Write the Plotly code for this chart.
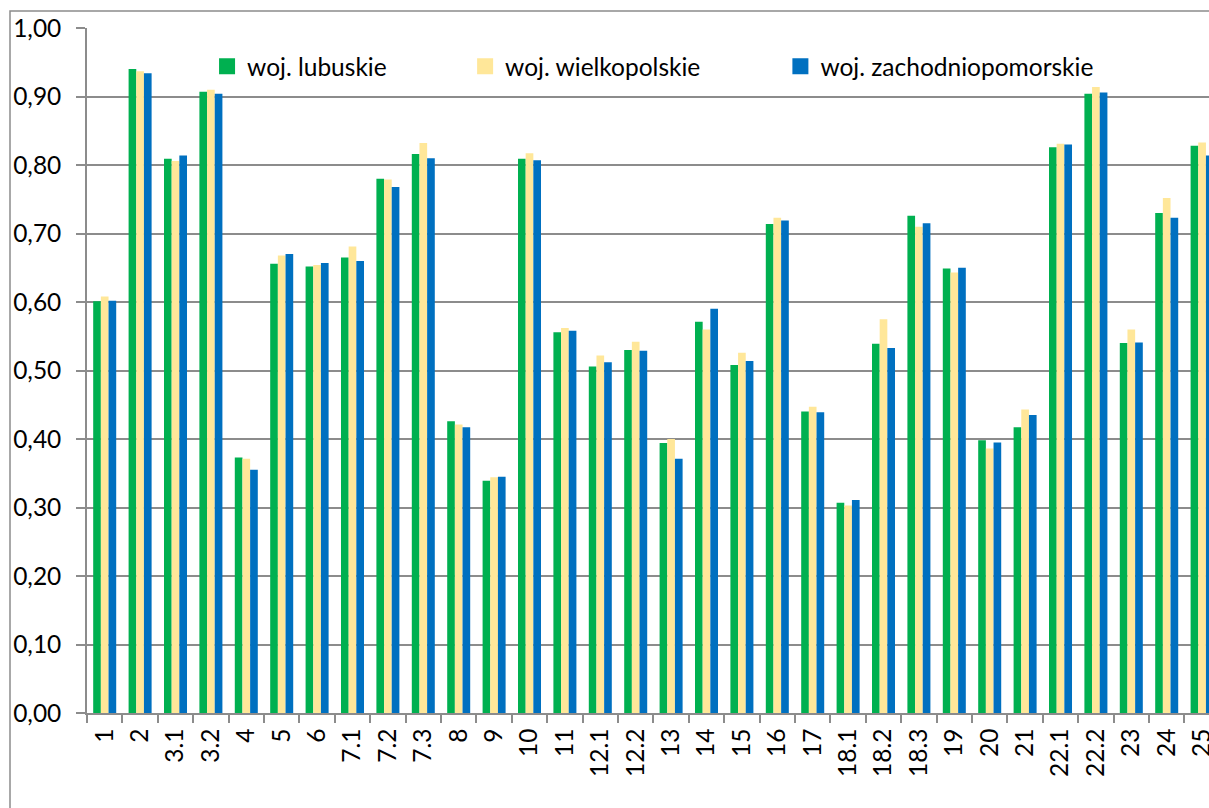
import plotly.graph_objects as go

categories = ["1", "2", "3.1", "3.2", "4", "5", "6", "7.1", "7.2", "7.3", "8", "9",
              "10", "11", "12.1", "12.2", "13", "14", "15", "16", "17", "18.1",
              "18.2", "18.3", "19", "20", "21", "22.1", "22.2", "23", "24", "25"]

lubuskie = [0.601, 0.940, 0.809, 0.907, 0.373, 0.656, 0.652, 0.665, 0.780, 0.816,
            0.426, 0.339, 0.809, 0.556, 0.506, 0.530, 0.394, 0.571, 0.508, 0.714,
            0.440, 0.307, 0.539, 0.726, 0.649, 0.398, 0.417, 0.826, 0.904, 0.540,
            0.730, 0.828]
wielkopolskie = [0.608, 0.937, 0.806, 0.910, 0.371, 0.668, 0.654, 0.681, 0.779, 0.832,
                 0.421, 0.344, 0.817, 0.562, 0.522, 0.542, 0.400, 0.560, 0.526, 0.723,
                 0.447, 0.303, 0.575, 0.710, 0.643, 0.386, 0.443, 0.831, 0.914, 0.560,
                 0.752, 0.833]
zachodniopomorskie = [0.602, 0.934, 0.814, 0.904, 0.355, 0.670, 0.657, 0.660, 0.768, 0.810,
                      0.417, 0.345, 0.807, 0.558, 0.512, 0.529, 0.371, 0.590, 0.514, 0.719,
                      0.439, 0.311, 0.533, 0.715, 0.650, 0.395, 0.435, 0.830, 0.906, 0.541,
                      0.723, 0.814]

series = [
    ("woj. lubuskie", lubuskie, "#00B050", "legend", 0.107),
    ("woj. wielkopolskie", wielkopolskie, "#FFE799", "legend2", 0.337),
    ("woj. zachodniopomorskie", zachodniopomorskie, "#0070C0", "legend3", 0.618),
]

_GRID = "#8C8C8C"
_FONT = "Lato"
_FS = 24.5
W, H = 1209, 808
ML, MT, MB = 87, 28, 95
PW, PH = W - ML, H - MT - MB
CAT_PX = 35.4

fig = go.Figure()
for name, vals, color, _, _ in series:
    fig.add_trace(go.Bar(x=categories, y=vals, name=name, marker_color=color,
                         marker_line_width=0, showlegend=False))

# legend entries with bigger square markers, one legend per entry (Excel spacing)
legends = {}
for name, _, color, lg, lx in series:
    fig.add_trace(go.Scatter(x=[None], y=[None], mode="markers", name=name,
                             marker=dict(symbol="square", size=16, color=color),
                             legend=lg))
    legends[lg] = dict(x=lx, y=0.944, xanchor="left", yanchor="middle",
                       bgcolor="rgba(0,0,0,0)", itemsizing="trace",
                       font=dict(family=_FONT, size=_FS, color="#000000"))

# outer chart border (cropped on the right and bottom like the source)
fig.add_shape(type="rect", xref="paper", yref="paper",
              x0=(10 - ML) / PW, x1=1.1, y0=-0.3, y1=(H - MB - 11) / PH,
              line=dict(color=_GRID, width=1.5), fillcolor="rgba(0,0,0,0)")

fig.update_layout(
    width=W, height=H,
    margin=dict(l=ML, r=0, t=MT, b=MB, pad=0, autoexpand=False),
    paper_bgcolor="white", plot_bgcolor="white",
    barmode="group", bargap=0.35, bargroupgap=0,
    separators=", ",
    font=dict(family=_FONT, size=_FS, color="#000000"),
    **legends,
)
fig.update_xaxes(
    type="category", range=[-0.5, -0.5 + PW / CAT_PX], automargin=False,
    showline=True, linecolor=_GRID, linewidth=1.5,
    ticks="outside", ticklen=8, tickcolor=_GRID, tickwidth=1.5,
    tickson="boundaries", tickangle=-90, showgrid=False,
    ticklabelstandoff=4,
    tickfont=dict(family=_FONT, size=_FS, color="#000000"),
)
fig.update_yaxes(
    range=[0, 1], dtick=0.1, tickformat=".2f", automargin=False,
    showgrid=True, gridcolor=_GRID, gridwidth=1.5, zeroline=False,
    showline=True, linecolor=_GRID, linewidth=1.5,
    ticks="outside", ticklen=9, tickcolor=_GRID, tickwidth=1.5,
    ticklabelstandoff=10,
    tickfont=dict(family=_FONT, size=_FS, color="#000000"),
)

# drop the browser's default page margin so the figure sits at the window corner
fig.write_html("out.html", config={"displayModeBar": False},
               post_script="document.body.style.margin='0';"
                           "document.body.style.overflow='hidden';")
